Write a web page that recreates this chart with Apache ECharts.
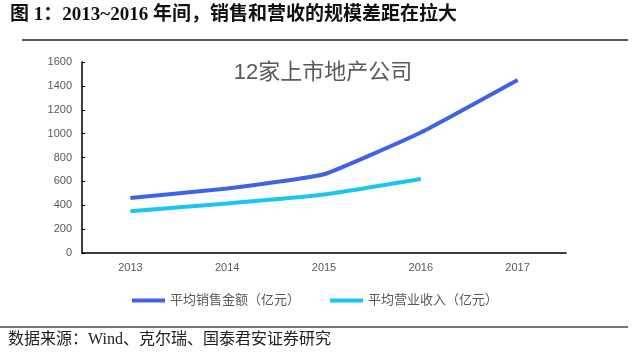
<!DOCTYPE html>
<html><head><meta charset="utf-8">
<script src="https://cdn.jsdelivr.net/npm/echarts@6/dist/echarts.min.js"></script>
<style>html,body{margin:0;padding:0;background:#fff}#c{width:640px;height:362px}</style>
</head><body><div id="c"></div>
<script>
const years = ['2013','2014','2015','2016','2017'];
const salesName = '平均销售金额（亿元）';
const revenueName = '平均营业收入（亿元）';
const sales = [460, 540, 660, 1010, 1450];
const revenue = [350, 415, 490, 620, null];
const yTicks = {min: 0, max: 1600, interval: 200};
const titleText = '图 1：2013~2016 年间，销售和营收的规模差距在拉大';
const noteText = '12家上市地产公司';
const sourceText = '数据来源：Wind、克尔瑞、国泰君安证券研究';

const chart = echarts.init(document.getElementById('c'));
const serif = '"Liberation Serif","Noto Sans CJK SC",serif';
const sans = 'Arial,"Liberation Sans","Noto Sans CJK SC",sans-serif';
chart.setOption({
  animation: false,
  backgroundColor: '#fff',
  grid: {left: 82, right: 74, top: 62, bottom: 109},
  xAxis: {
    type: 'category', data: years, boundaryGap: true,
    axisLine: {lineStyle: {color: '#000', width: 1.5}},
    axisTick: {inside: true, length: 3, lineStyle: {color: '#000'}},
    axisLabel: {color: '#595959', fontSize: 11, fontFamily: sans, margin: 9}
  },
  yAxis: {
    type: 'value', min: yTicks.min, max: yTicks.max, interval: yTicks.interval,
    splitLine: {show: false},
    axisLine: {show: true, lineStyle: {color: '#000', width: 1.5}},
    axisTick: {show: true, inside: true, length: 3, lineStyle: {color: '#000'}},
    axisLabel: {color: '#595959', fontSize: 11, fontFamily: sans, margin: 10, formatter: v => String(v)}
  },
  legend: {
    left: 127, top: 289, itemWidth: 33, itemHeight: 4, itemGap: 30, icon: 'rect',
    textStyle: {color: '#595959', fontSize: 13, fontFamily: serif},
    data: [salesName, revenueName]
  },
  series: [
    {name: salesName, type: 'line', data: sales, smooth: 0.12, symbol: 'none',
     lineStyle: {width: 4, color: '#3F63E6'}, itemStyle: {color: '#3F63E6'}},
    {name: revenueName, type: 'line', data: revenue, smooth: 0.12, symbol: 'none',
     lineStyle: {width: 4, color: '#1AC6F0'}, itemStyle: {color: '#1AC6F0'}}
  ],
  graphic: [
    {type: 'text', left: 10, top: 6, style: {text: titleText, font: 'bold 19px ' + serif, fill: '#111'}},
    {type: 'line', shape: {x1: 22, y1: 40, x2: 628, y2: 40}, style: {stroke: '#222', lineWidth: 1.5}},
    {type: 'text', x: 323, y: 73, style: {text: noteText, font: '22px ' + sans, fill: '#595959', align: 'center', verticalAlign: 'middle'}},
    {type: 'line', shape: {x1: 0, y1: 327, x2: 628, y2: 327}, style: {stroke: '#777', lineWidth: 2}},
    {type: 'text', left: 8, top: 332, style: {text: sourceText, font: '16px ' + serif, fill: '#222'}}
  ]
});
</script></body></html>
